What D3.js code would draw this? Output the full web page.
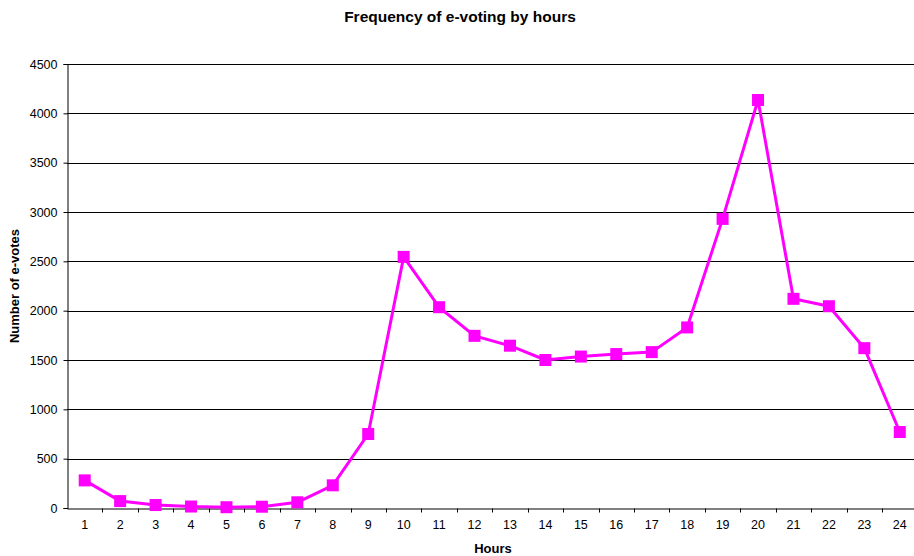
<!DOCTYPE html>
<html><head><meta charset="utf-8">
<script src="https://cdn.jsdelivr.net/npm/d3@7"></script>
<style>body{margin:0;background:#fff}svg{display:block;font-family:Arial,"Liberation Sans",sans-serif}</style>
</head><body>
<script>
const hours = [1,2,3,4,5,6,7,8,9,10,11,12,13,14,15,16,17,18,19,20,21,22,23,24];
const votes = [280,70,30,15,8,13,58,230,750,2545,2035,1745,1645,1500,1535,1560,1580,1830,2930,4135,2120,2045,1620,770];
const yTicks = [0,500,1000,1500,2000,2500,3000,3500,4000,4500];

const W = 914, H = 556;
const m = {left:67, right:-3.5, top:64, bottom:48};
const svg = d3.select("body").append("svg").attr("width",W).attr("height",H);
const x = d3.scaleBand().domain(hours).range([m.left, W - m.right]);
const y = d3.scaleLinear().domain([0,4500]).range([H - m.bottom, m.top]);
const FONT = "Arial, Liberation Sans, sans-serif";

// gridlines
svg.append("g").selectAll("line").data(yTicks.filter(d=>d>0)).join("line")
  .attr("x1", m.left).attr("x2", W).attr("y1", d=>Math.round(y(d))+0.5).attr("y2", d=>Math.round(y(d))+0.5)
  .attr("stroke","#000").attr("stroke-width",1);

// y axis
const ya = svg.append("g").attr("transform",`translate(${m.left+0.5},0)`)
  .call(d3.axisLeft(y).tickValues(yTicks).tickSize(4).tickPadding(6).tickFormat(d3.format("d")));
ya.select(".domain").attr("stroke","#000");
ya.selectAll("text").attr("font-size",12.5).attr("fill","#000").attr("font-family",FONT);

// x axis
const xa = svg.append("g").attr("transform",`translate(0,${Math.round(y(0))+0.5})`)
  .call(d3.axisBottom(x).tickSize(0).tickPadding(12));
xa.select(".domain").attr("stroke","#000");
xa.selectAll("text").attr("font-size",12.5).attr("fill","#000").attr("font-family",FONT);
// category boundary ticks
xa.append("g").selectAll("line").data(hours.slice(1)).join("line")
  .attr("x1", d=>Math.round(x(d))+0.5).attr("x2", d=>Math.round(x(d))+0.5)
  .attr("y1",0).attr("y2",4).attr("stroke","#000");

// line
const cx = d => x(d) + x.bandwidth()/2;
const data = hours.map((h,i)=>({h, v:votes[i]}));
svg.append("path").datum(data)
  .attr("fill","none").attr("stroke","#ff00ff").attr("stroke-width",3).attr("stroke-linejoin","round")
  .attr("d", d3.line().x(d=>cx(d.h)).y(d=>y(d.v)));
svg.append("g").selectAll("rect").data(data).join("rect")
  .attr("x", d=>cx(d.h)-6).attr("y", d=>y(d.v)-6).attr("width",12).attr("height",12)
  .attr("fill","#ff00ff");

// titles
svg.append("text").attr("x", 460).attr("y", 22).attr("text-anchor","middle")
  .attr("font-size",15.5).attr("font-weight","bold").text("Frequency of e-voting by hours");
svg.append("text").attr("x", 493).attr("y", 553).attr("text-anchor","middle")
  .attr("font-size",13).attr("font-weight","bold").text("Hours");
svg.append("text").attr("transform","translate(19,286) rotate(-90)").attr("text-anchor","middle")
  .attr("font-size",13).attr("font-weight","bold").text("Number of e-votes");
</script>
</body></html>
